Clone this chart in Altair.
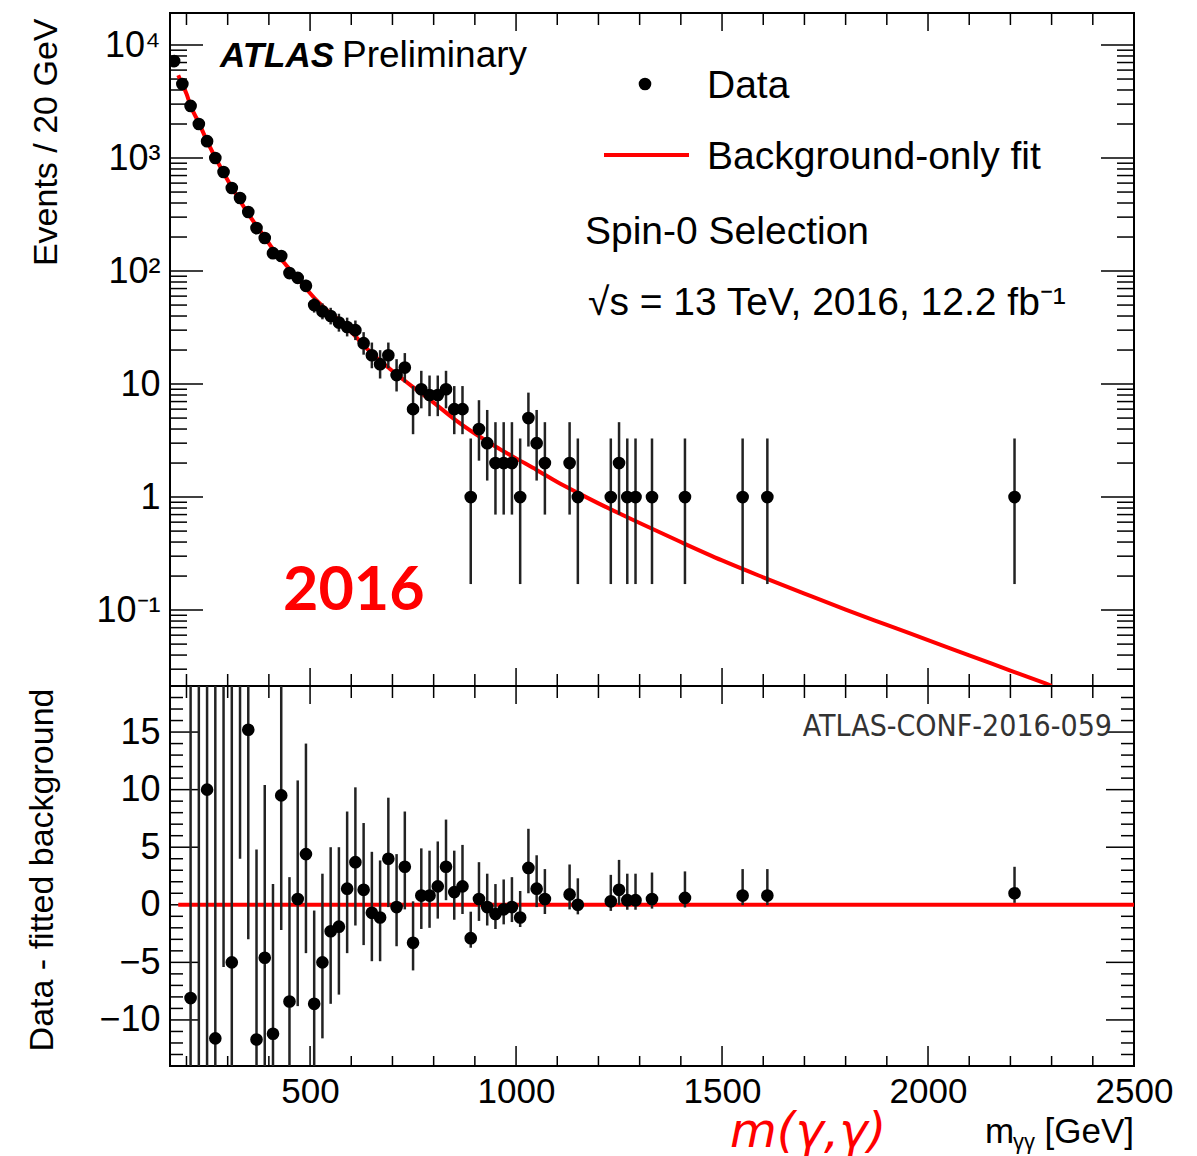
import altair as alt
import pandas as pd

# ---------------- data ----------------
mass = [170, 190, 210, 230, 250, 270, 290, 310, 330, 350, 370, 390, 410, 430, 450, 470, 490, 510, 530, 550, 570, 590, 610,
        630, 650, 670, 690, 710, 730, 750, 770, 790, 810, 830, 850, 870, 890, 910, 930, 950, 970, 990, 1010, 1030, 1050, 1070,
        1130, 1150, 1230, 1250, 1270, 1290, 1330, 1410, 1550, 1610, 2210]
counts = [7210, 4520, 2890, 2000, 1410, 1000, 752, 543, 443, 333, 240, 196, 144, 136, 96, 87, 74, 50, 44, 40, 35, 32, 30,
          23, 18, 15, 18, 12, 14, 6, 9, 8, 8, 9, 6, 6, 1, 4, 3, 2, 2, 2, 1, 5, 3, 2,
          2, 1, 1, 2, 1, 1, 1, 1, 1, 1, 1]
err_lo = [85, 67, 54, 45, 37.5, 31.6, 27.4, 23.3, 21, 18.2, 15.5, 14, 12, 11.7, 9.8, 9.3, 8.6, 7.1, 6.6, 6.3, 5.9, 5.6, 5.5,
          4.8, 4.2, 3.8, 4.2, 3.4, 3.7, 2.4, 2.9, 2.8, 2.8, 2.9, 2.4, 2.4, 0.83, 1.9, 1.6, 1.3, 1.3, 1.3, 0.83, 2.2, 1.6, 1.3,
          1.3, 0.83, 0.83, 1.3, 0.83, 0.83, 0.83, 0.83, 0.83, 0.83, 0.83]
err_hi = [86, 68, 55, 46, 38.5, 32.6, 28.4, 24.3, 22, 19.2, 16.5, 15, 13, 12.7, 10.8, 10.3, 9.6, 8.1, 7.7, 7.3, 6.9, 6.7, 6.5,
          5.8, 5.3, 4.95, 5.3, 4.6, 4.8, 3.6, 4.1, 3.9, 3.9, 4.1, 3.6, 3.6, 2.3, 3.2, 2.9, 2.6, 2.6, 2.6, 2.3, 3.4, 2.9, 2.6,
          2.6, 2.3, 2.3, 2.6, 2.3, 2.3, 2.3, 2.3, 2.3, 2.3, 2.3]

res_mass = [210, 230, 250, 270, 290, 310, 330, 350, 370, 390, 410, 430, 450, 470, 490, 510, 530, 550, 570, 590, 610,
            630, 650, 670, 690, 710, 730, 750, 770, 790, 810, 830, 850, 870, 890, 910, 930, 950, 970, 990, 1010, 1030, 1050, 1070,
            1130, 1150, 1230, 1250, 1270, 1290, 1330, 1410, 1550, 1610, 2210]
res_val = [-8.1, 28, 10.0, -11.6, 22, -5.0, 25, 15.2, -11.7, -4.6, -11.2, 9.5, -8.4, 0.5, 4.4, -8.6, -5.0, -2.3, -1.9, 1.4, 3.7,
           1.3, -0.7, -1.1, 4.0, -0.2, 3.3, -3.3, 0.8, 0.8, 1.6, 3.3, 1.1, 1.6, -2.9, 0.5, -0.2, -0.8, -0.4, -0.2, -1.1, 3.2, 1.4, 0.5,
           0.9, 0.0, 0.3, 1.3, 0.4, 0.4, 0.5, 0.6, 0.8, 0.8, 1.0]

fit_mass = [180, 190, 200, 210, 230, 250, 270, 290, 310, 330, 350, 370, 390, 410, 430, 450, 470, 490, 510, 530, 550, 570, 590,
            610, 630, 650, 670, 690, 710, 730, 750, 800, 850, 900, 950, 1000, 1050, 1100, 1150, 1200, 1300, 1400, 1500, 1600,
            1700, 1800, 1900, 2000, 2100, 2200, 2300]
fit_val = [5400, 4500, 3700, 2900, 2050, 1410, 1010, 740, 550, 420, 320, 252, 200, 156, 127, 104, 86, 70, 58, 49, 42, 37, 31,
           26.5, 22, 18.7, 16.1, 14, 12.2, 10.7, 9.4, 6.85, 4.9, 3.65, 2.8, 2.2, 1.74, 1.36, 1.09, 0.88, 0.59, 0.40, 0.275, 0.195,
           0.140, 0.101, 0.074, 0.0543, 0.0398, 0.0292, 0.0214]
fit_start, fit_end = 180, 2500

top_y_major = [0.1, 1, 10, 100, 1000, 10000]
top_y_minor = [m * 10 ** k for k in range(-2, 4) for m in range(2, 10) if 0.0213 < m * 10 ** k < 19200]
x_major = [500, 1000, 1500, 2000, 2500]
x_minor = [v for v in range(200, 2500, 100) if v % 500 != 0]
bot_y_major = [-10, -5, 0, 5, 10, 15]
bot_y_minor = [v for v in range(-14, 20) if v % 5 != 0]

# ---------------- tables ----------------
top_df = pd.DataFrame({
    "mass": mass, "count": counts,
    "lo": [c - e for c, e in zip(counts, err_lo)],
    "hi": [c + e for c, e in zip(counts, err_hi)],
})
elo = dict(zip(mass, err_lo))
ehi = dict(zip(mass, err_hi))
res_df = pd.DataFrame({
    "mass": res_mass, "res": res_val,
    "lo": [r - elo[m] for m, r in zip(res_mass, res_val)],
    "hi": [r + ehi[m] for m, r in zip(res_mass, res_val)],
})
fit_df = pd.DataFrame({"mass": fit_mass, "fit": fit_val})
zero_df = pd.DataFrame({"m0": [fit_start], "m1": [fit_end], "z": [0]})

W, H1, H2 = 964, 673, 380
FONT = "Liberation Sans"
XDOM = [160, 2500]

def xs(field, axis=None):
    return alt.X(f"{field}:Q", scale=alt.Scale(domain=XDOM, nice=False, zero=False), axis=axis)

top_axis = alt.Axis(values=top_y_major, ticks=False, domain=False, grid=False,
                    labelExpr="datum.value < 0.5 ? '10\u207b\u00b9' : datum.value < 5 ? '1' : datum.value < 50 ? '10' : datum.value < 500 ? '10\u00b2' : datum.value < 5000 ? '10\u00b3' : '10\u2074'",
                    labelFontSize=36, labelPadding=10, labelFont=FONT, labelColor="black",
                    title="Events / 20 GeV", titleFont=FONT, titleFontSize=34, titleFontWeight="normal",
                    titleAngle=-90, titleAlign="right", titleBaseline="middle", titleX=-124, titleY=5, titleColor="black")

def yt(field):
    return alt.Y(f"{field}:Q", scale=alt.Scale(type="log", domain=[0.0213, 19200], nice=False), axis=top_axis)

bot_axis = alt.Axis(values=bot_y_major, ticks=False, domain=False, grid=False,
                    labelExpr="replace(format(datum.value, 'd'), '-', '\u2212')",
                    labelFontSize=36, labelPadding=10, labelFont=FONT, labelColor="black",
                    title="Data - fitted background", titleFont=FONT, titleFontSize=34, titleFontWeight="normal",
                    titleAngle=-90, titleAlign="right", titleBaseline="middle", titleX=-128, titleY=2, titleColor="black")

def yb(field):
    return alt.Y(f"{field}:Q", scale=alt.Scale(domain=[-14, 19], nice=False, zero=False), axis=bot_axis)

bot_x_axis = alt.Axis(values=x_major, ticks=False, domain=False, grid=False, labelFlush=False, labelOverlap=False,
                      labelFontSize=35, labelPadding=8, labelFont=FONT, labelColor="black", format="d", title=None)

def vdf(vals):
    return pd.DataFrame({"v": vals})

def txt(s, x, y, size, align="left", color="black", font=FONT, weight="normal", style="normal", baseline="middle"):
    return alt.Chart(pd.DataFrame({"t": [s]})).mark_text(
        align=align, baseline=baseline, fontSize=size, color=color, font=font,
        fontWeight=weight, fontStyle=style).encode(x=alt.value(x), y=alt.value(y), text="t:N")

TK = dict(color="black", strokeWidth=1.5)
DOT = 160

# ---------------- top panel ----------------
t_layers = [
    alt.Chart(vdf(top_y_major)).mark_rule(**TK).encode(y=yt("v"), x=alt.value(0), x2=alt.value(33)),
    alt.Chart(vdf(top_y_minor)).mark_rule(**TK).encode(y=yt("v"), x=alt.value(0), x2=alt.value(17)),
    alt.Chart(vdf(top_y_major)).mark_rule(**TK).encode(y=yt("v"), x=alt.value(W), x2=alt.value(W - 33)),
    alt.Chart(vdf(top_y_minor)).mark_rule(**TK).encode(y=yt("v"), x=alt.value(W), x2=alt.value(W - 17)),
    alt.Chart(vdf(x_major)).mark_rule(**TK).encode(x=xs("v"), y=alt.value(0), y2=alt.value(18)),
    alt.Chart(vdf(x_minor)).mark_rule(**TK).encode(x=xs("v"), y=alt.value(0), y2=alt.value(12)),
    alt.Chart(vdf(x_major)).mark_rule(**TK).encode(x=xs("v"), y=alt.value(H1), y2=alt.value(H1 - 18)),
    alt.Chart(vdf(x_minor)).mark_rule(**TK).encode(x=xs("v"), y=alt.value(H1), y2=alt.value(H1 - 12)),
    alt.Chart(fit_df).mark_line(color="#ff0000", strokeWidth=4, clip=True, interpolate="monotone").encode(
        x=xs("mass"), y=yt("fit")),
    alt.Chart(top_df).mark_rule(color="#222222", strokeWidth=2.5, clip=True).encode(
        x=xs("mass"), y=yt("lo"), y2="hi"),
    alt.Chart(top_df).mark_circle(size=DOT, color="black", opacity=1, clip=True).encode(
        x=xs("mass"), y=yt("count")),
    # legend
    alt.Chart(pd.DataFrame({"a": [0]})).mark_circle(size=DOT, color="black", opacity=1).encode(
        x=alt.value(475), y=alt.value(71)),
    alt.Chart(pd.DataFrame({"a": [0]})).mark_rule(color="#ff0000", strokeWidth=4).encode(
        x=alt.value(434), x2=alt.value(519), y=alt.value(142)),
    txt("Data", 537, 73, 39),
    txt("Background-only fit", 537, 144, 39),
    txt("Spin-0 Selection", 415, 219, 39),
    txt("\u221as = 13 TeV, 2016, 12.2 fb\u207b\u00b9", 418, 290, 39),
    txt("ATLAS", 50, 43, 35, weight="bold", style="italic"),
    txt("Preliminary", 172, 43, 37),
    txt("2016", 113, 579, 61, color="#ff0000", font="Lato", weight="bold"),
]
top = alt.layer(*t_layers).properties(width=W, height=H1)

# ---------------- bottom panel ----------------
b_layers = [
    alt.Chart(vdf(bot_y_major)).mark_rule(**TK).encode(y=yb("v"), x=alt.value(0), x2=alt.value(28)),
    alt.Chart(vdf(bot_y_minor)).mark_rule(**TK).encode(y=yb("v"), x=alt.value(0), x2=alt.value(13)),
    alt.Chart(vdf(bot_y_major)).mark_rule(**TK).encode(y=yb("v"), x=alt.value(W), x2=alt.value(W - 28)),
    alt.Chart(vdf(bot_y_minor)).mark_rule(**TK).encode(y=yb("v"), x=alt.value(W), x2=alt.value(W - 13)),
    alt.Chart(vdf(x_major)).mark_rule(**TK).encode(x=xs("v", bot_x_axis), y=alt.value(0), y2=alt.value(18)),
    alt.Chart(vdf(x_minor)).mark_rule(**TK).encode(x=xs("v", bot_x_axis), y=alt.value(0), y2=alt.value(12)),
    alt.Chart(vdf(x_major)).mark_rule(**TK).encode(x=xs("v", bot_x_axis), y=alt.value(H2), y2=alt.value(H2 - 20)),
    alt.Chart(vdf(x_minor)).mark_rule(**TK).encode(x=xs("v", bot_x_axis), y=alt.value(H2), y2=alt.value(H2 - 10)),
    alt.Chart(zero_df).mark_rule(color="#ff0000", strokeWidth=4).encode(
        x=xs("m0", bot_x_axis), x2="m1", y=yb("z")),
    alt.Chart(res_df).mark_rule(color="#222222", strokeWidth=2.5, clip=True).encode(
        x=xs("mass", bot_x_axis), y=yb("lo"), y2="hi"),
    alt.Chart(res_df).mark_circle(size=DOT, color="black", opacity=1, clip=True).encode(
        x=xs("mass", bot_x_axis), y=yb("res")),
    txt("ATLAS-CONF-2016-059", 942, 41, 30, align="right", color="#333333", font="DejaVu Sans Condensed, DejaVu Sans"),
    txt("m(\u03b3,\u03b3)", 560, 461, 48, color="#ff0000", font="DejaVu Sans", style="italic", baseline="alphabetic"),
    txt("m", 815, 457, 35, baseline="alphabetic"),
    txt("\u03b3\u03b3", 843, 463, 22, baseline="alphabetic"),
    txt("[GeV]", 964, 457, 35, align="right", baseline="alphabetic"),
]
bottom = alt.layer(*b_layers).properties(width=W, height=H2)

chart = alt.vconcat(top, bottom, spacing=0, bounds="flush").properties(
    padding={"left": 15, "top": 3, "right": 5, "bottom": 5}, background="white"
).configure_view(stroke="black", strokeWidth=2)

chart.save("out.html", embed_options={"renderer": "svg", "actions": False})
